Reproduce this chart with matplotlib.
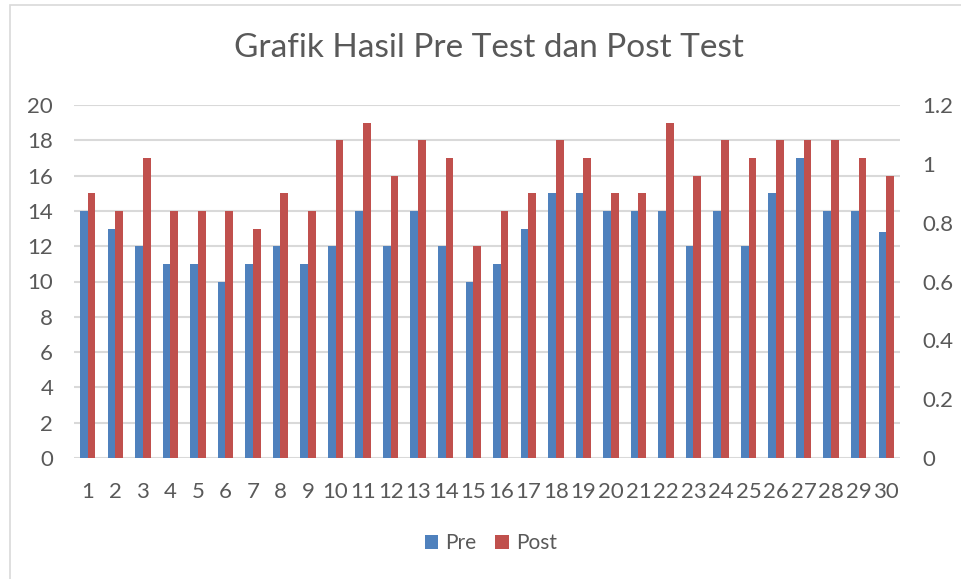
import matplotlib
matplotlib.use('Agg')
import matplotlib.pyplot as plt
import numpy as np
from matplotlib.patches import Rectangle

plt.rcParams['font.family'] = ['Lato', 'DejaVu Sans']

students = list(range(1, 31))
pre = [14, 13, 12, 11, 11, 10, 11, 12, 11, 12, 14, 12, 14, 12, 10,
       11, 13, 15, 15, 14, 14, 14, 12, 14, 12, 15, 17, 14, 14, 12.8]
post = [15, 14, 17, 14, 14, 14, 13, 15, 14, 18, 19, 16, 18, 17, 12,
        14, 15, 18, 17, 15, 15, 19, 16, 18, 17, 18, 18, 18, 17, 16]
left_ticks = list(range(0, 21, 2))
right_ticks = [0, 0.2, 0.4, 0.6, 0.8, 1.0, 1.2]
right_labels = ['0', '0.2', '0.4', '0.6', '0.8', '1', '1.2']

blue = '#4F81BD'
red = '#C0504D'
txt = '#595959'
grid = '#D9D9D9'

W, H = 962, 579
fig = plt.figure(figsize=(W / 100, H / 100), dpi=100)
# chart frame: only the left and top edges fall inside the picture
fig.patches.append(Rectangle((10 / W, -0.5), 2, 1.5 - 5 / H, transform=fig.transFigure,
                             fill=False, edgecolor='#D9D9D9', linewidth=1.2))

ax = fig.add_axes([74 / W, 1 - 458 / H, (900 - 74) / W, (458 - 105) / H])
x = np.array(students)
bw = 0.28
ax.bar(x - bw / 2, pre, width=bw, color=blue, label='Pre', zorder=3)
ax.bar(x + bw / 2, post, width=bw, color=red, label='Post', zorder=3)

ax.set_xlim(0.5, 30.5)
ax.set_ylim(0, 20)
ax.set_yticks(left_ticks)
ax.set_xticks(x)
ax.set_xticklabels([str(s) for s in students])
ax.yaxis.grid(True, color=grid, linewidth=1.5, zorder=0)
ax.set_axisbelow(True)
for s in ax.spines.values():
    s.set_visible(False)
ax.tick_params(axis='both', length=0, colors=txt, labelsize=16)
ax.tick_params(axis='y', pad=15)
ax.tick_params(axis='x', pad=17)

ax2 = ax.twinx()
ax2.set_ylim(0, 1.2)
ax2.set_yticks(right_ticks)
ax2.set_yticklabels(right_labels)
for s in ax2.spines.values():
    s.set_visible(False)
ax2.tick_params(axis='y', length=0, colors=txt, labelsize=16, pad=16)

fig.text(489 / W, 1 - 48 / H, 'Grafik Hasil Pre Test dan Post Test',
         ha='center', va='center', fontsize=24, color=txt)

leg = fig.legend(loc='center', bbox_to_anchor=(491 / W, 1 - 543 / H), ncol=2,
                 frameon=False, fontsize=15, handlelength=0.65, handleheight=0.65,
                 handletextpad=0.35, columnspacing=0.9)
for t in leg.get_texts():
    t.set_color(txt)

fig.savefig('out.png', dpi=100)
